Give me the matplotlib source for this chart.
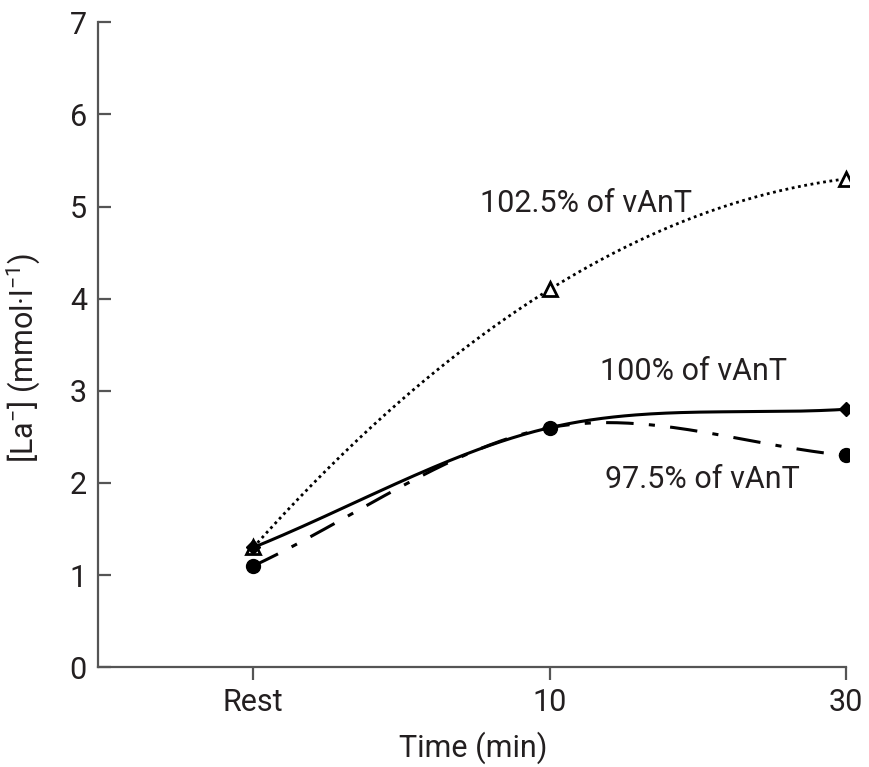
import matplotlib
matplotlib.use("Agg")
import matplotlib.pyplot as plt
import numpy as np

plt.rcParams['font.family'] = ['Roboto', 'DejaVu Sans']
plt.rcParams['mathtext.default'] = 'regular'

# data
times = ['Rest', '10', '30']
pos = [0, 1, 2]
la_1025 = [1.3, 4.1, 5.3]
la_100 = [1.3, 2.6, 2.8]
la_975 = [1.1, 2.6, 2.3]


def smooth(y, n=80):
    # cubic hermite through the points, finite-difference slopes
    y = np.asarray(y, float)
    x = np.asarray(pos, float)
    m = np.gradient(y, x)
    xs_all, ys_all = [], []
    for i in range(len(x) - 1):
        h = x[i + 1] - x[i]
        t = np.linspace(0, 1, n)
        h00 = 2 * t**3 - 3 * t**2 + 1
        h10 = t**3 - 2 * t**2 + t
        h01 = -2 * t**3 + 3 * t**2
        h11 = t**3 - t**2
        xs_all.append(x[i] + t * h)
        ys_all.append(h00 * y[i] + h10 * h * m[i] + h01 * y[i + 1] + h11 * h * m[i + 1])
    return np.concatenate(xs_all), np.concatenate(ys_all)


def smooth_quad(y):
    # parabola through the three points
    c = np.polyfit(pos, y, 2)
    xs = np.linspace(pos[0], pos[-1], 200)
    return xs, np.polyval(c, xs)


fig = plt.figure(figsize=(8.69, 7.67), dpi=100)
ax = fig.add_axes([0.1128, 0.130, 0.864, 0.841])

txt = '#231f20'

xs, ys = smooth_quad(la_1025)
ax.plot(xs, ys, color='k', lw=2, linestyle=(0, (1, 1.3)))
ax.plot(pos, la_1025, linestyle='none', marker='^', ms=10, mfc='white', mec='k', mew=2)

xs, ys = smooth(la_975)
ax.plot(xs, ys, color='k', lw=2.2, linestyle=(0, (9, 5, 2, 5)))
ax.plot(pos, la_975, linestyle='none', marker='o', ms=10, color='k')

xs, ys = smooth(la_100)
ax.plot(xs, ys, color='k', lw=2.2)
ax.plot(pos, la_100, linestyle='none', marker='D', ms=7, color='k')

ax.text(0.764, 4.94, '102.5% of vAnT', fontsize=22, color=txt, ha='left', va='baseline')
ax.text(1.171, 3.115, '100% of vAnT', fontsize=22, color=txt, ha='left', va='baseline')
ax.text(1.188, 1.943, '97.5% of vAnT', fontsize=22, color=txt, ha='left', va='baseline')

ax.set_xlim(-0.524, 2.01)
ax.set_ylim(0, 7)
ax.set_xticks(pos)
ax.set_xticklabels(times)
ax.set_yticks(range(8))

for s in ['top', 'right']:
    ax.spines[s].set_visible(False)
for s in ['left', 'bottom']:
    ax.spines[s].set_color('#555555')
    ax.spines[s].set_linewidth(1.6)
ax.spines['bottom'].set_bounds(-0.524, 2.0)

ax.tick_params(axis='y', direction='in', length=9, width=1.6, color='#555555',
               labelsize=22, labelcolor=txt, pad=8)
ax.tick_params(axis='x', direction='out', length=9, width=1.6, color='#555555',
               labelsize=22, labelcolor=txt, pad=6)

ax.set_xlabel('Time (min)', fontsize=22, color=txt, labelpad=10)
ax.set_ylabel('[La$^{-}$] (mmol·l$^{-1}$)', fontsize=22, color=txt)
ax.yaxis.set_label_coords(-0.075, 0.48)

fig.savefig('out.png', dpi=100)
